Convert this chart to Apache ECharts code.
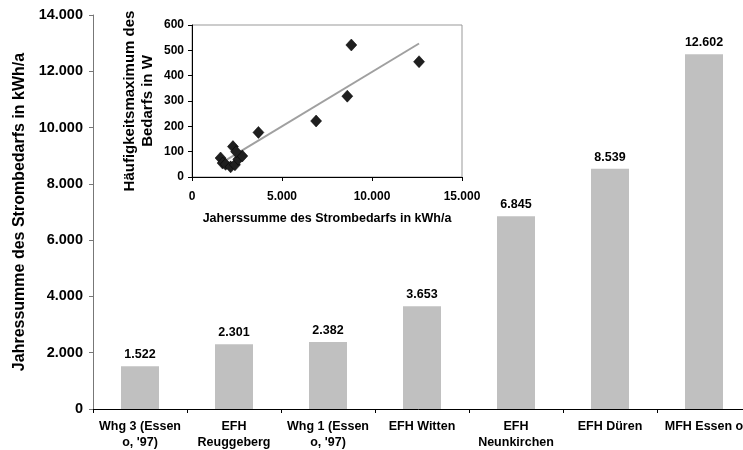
<!DOCTYPE html>
<html>
<head>
<meta charset="utf-8">
<script src="https://cdn.jsdelivr.net/npm/echarts@6/dist/echarts.min.js"></script>
<style>
html,body{margin:0;padding:0;background:#fff;}
#c{width:743px;height:450px;}
</style>
</head>
<body>
<div id="c"></div>
<script>
// Main bar chart data
const categories = ["Whg 3 (Essen\no, '97)", "EFH\nReuggeberg", "Whg 1 (Essen\no, '97)", "EFH Witten", "EFH\nNeunkirchen", "EFH Düren", "MFH Essen o"];
const annualDemand = [1522, 2301, 2382, 3653, 6845, 8539, 12602];

// Inset scatter data (x: annual sum kWh/a, y: frequency maximum W)
const scatterX = [1587, 1700, 1867, 2146, 2386, 2570, 2795, 2275, 2450, 3690, 6896, 8628, 8852, 12614];
const scatterY = [75, 55, 50, 40, 48, 70, 83, 120, 100, 176, 221, 319, 521, 455];

// Trend line endpoints
const trendX = [1500, 12614];
const trendY = [50, 527];

const fmt = v => String(Math.round(v)).replace(/\B(?=(\d{3})+(?!\d))/g, '.');
const FONT = 'Liberation Sans, Arial, sans-serif';

const chart = echarts.init(document.getElementById('c'), null, {renderer: 'canvas'});
chart.setOption({
  animation: false,
  backgroundColor: '#fff',
  textStyle: {fontFamily: FONT},
  grid: [
    {left: 93, top: 15, width: 658, height: 394, containLabel: false, outerBoundsMode: 'none'},
    {left: 192, top: 25, width: 270, height: 152, show: true, backgroundColor: '#fff', borderColor: '#999', borderWidth: 1, containLabel: false, outerBoundsMode: 'none'}
  ],
  xAxis: [
    {
      type: 'category', gridIndex: 0, data: categories,
      axisLine: {lineStyle: {color: '#000', width: 1}},
      axisTick: {show: true, length: 4, lineStyle: {color: '#000'}},
      axisLabel: {interval: 0, color: '#000', fontWeight: 'bold', fontSize: 12.5, lineHeight: 16, margin: 10, fontFamily: FONT}
    },
    {
      type: 'value', gridIndex: 1, min: 0, max: 15000, interval: 5000,
      name: 'Jaherssumme des Strombedarfs in kWh/a', nameLocation: 'middle', nameGap: 35,
      nameTextStyle: {color: '#000', fontWeight: 'bold', fontSize: 12.5, fontFamily: FONT},
      splitLine: {show: false},
      axisLine: {show: true, onZero: false, lineStyle: {color: '#000'}},
      axisTick: {show: true, length: 4, lineStyle: {color: '#000'}},
      axisLabel: {color: '#000', fontWeight: 'bold', fontSize: 12, margin: 14, formatter: fmt, fontFamily: FONT}
    }
  ],
  yAxis: [
    {
      type: 'value', gridIndex: 0, min: 0, max: 14000, interval: 2000,
      name: 'Jahressumme des Strombedarfs in kWh/a', nameLocation: 'middle', nameGap: 62,
      nameTextStyle: {color: '#000', fontWeight: 'bold', fontSize: 16, fontFamily: FONT},
      splitLine: {show: false},
      axisLine: {show: true, lineStyle: {color: '#777'}},
      axisTick: {show: true, length: 4, lineStyle: {color: '#777'}},
      axisLabel: {color: '#000', fontWeight: 'bold', fontSize: 14.5, margin: 10, formatter: fmt, fontFamily: FONT}
    },
    {
      type: 'value', gridIndex: 1, min: 0, max: 600, interval: 100,
      name: 'Häufigkeitsmaximum des\nBedarfs in W', nameLocation: 'middle', nameGap: 35,
      nameTextStyle: {color: '#000', fontWeight: 'bold', fontSize: 15, lineHeight: 18, fontFamily: FONT},
      splitLine: {show: false},
      axisLine: {show: true, onZero: false, lineStyle: {color: '#000'}},
      axisTick: {show: true, length: 4, lineStyle: {color: '#000'}},
      axisLabel: {color: '#000', fontWeight: 'bold', fontSize: 12, margin: 8, fontFamily: FONT}
    }
  ],
  series: [
    {
      type: 'bar', xAxisIndex: 0, yAxisIndex: 0, data: annualDemand, barWidth: 38,
      itemStyle: {color: '#c0c0c0'},
      label: {show: true, position: 'top', distance: 5, color: '#000', fontWeight: 'bold', fontSize: 12.5, formatter: p => fmt(p.value), fontFamily: FONT}
    },
    {
      type: 'line', xAxisIndex: 1, yAxisIndex: 1,
      data: trendX.map((x, i) => [x, trendY[i]]),
      symbol: 'none', lineStyle: {color: '#a0a0a0', width: 2}, z: 3
    },
    {
      type: 'scatter', xAxisIndex: 1, yAxisIndex: 1,
      data: scatterX.map((x, i) => [x, scatterY[i]]),
      symbol: 'diamond', symbolSize: [11, 12],
      itemStyle: {color: '#1f1f1f', opacity: 1, borderColor: '#000', borderWidth: 0.5}, z: 4
    }
  ]
});
</script>
</body>
</html>
